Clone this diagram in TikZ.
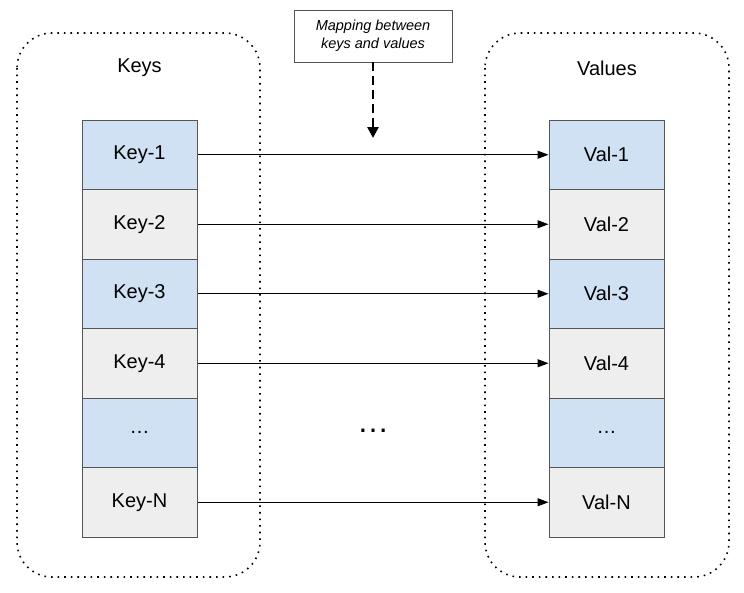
\documentclass[tikz,border=0pt]{standalone}
\usepackage{fontspec}
\setmainfont{Liberation Sans}
\usetikzlibrary{arrows.meta}
\definecolor{cellblue}{HTML}{CFE1F2}
\definecolor{cellgray}{HTML}{EEEEEE}
\definecolor{edgegray}{HTML}{555555}
\begin{document}
\begin{tikzpicture}[x=1pt,y=-1pt,
    cell/.style={draw=edgegray,line width=1pt,minimum width=115pt,minimum height=69.5pt,
      font=\fontsize{20}{24}\selectfont},
    map/.style={-{Triangle[length=11pt,width=8pt]},line width=1.1pt},
    group/.style={line width=1.6pt,dash pattern=on 1.6pt off 5pt,rounded corners=35pt}]
  \useasboundingbox (0,0) rectangle (744,592);
  % the two groups
  \draw[group] (17,33) rectangle (260,577);
  \draw[group] (485,33) rectangle (729,577);
  \node[font=\fontsize{20}{24}\selectfont] (keys) at (139.5,68) {Keys};
  \node[font=\fontsize{20}{24}\selectfont] (vals) at (607,68) {Values};
  % key column
  \node[cell,fill=cellblue] (k1) at (139.5,154.75) {Key-1};
  \node[cell,fill=cellgray] (k2) at (139.5,224.25) {Key-2};
  \node[cell,fill=cellblue] (k3) at (139.5,293.75) {Key-3};
  \node[cell,fill=cellgray] (k4) at (139.5,363.25) {Key-4};
  \node[cell,fill=cellblue] (kd) at (139.5,432.75) {\dots};
  \node[cell,fill=cellgray] (kn) at (139.5,502.25) {Key-N};
  % value column
  \node[cell,fill=cellblue] (v1) at (606.5,154.75) {Val-1};
  \node[cell,fill=cellgray] (v2) at (606.5,224.25) {Val-2};
  \node[cell,fill=cellblue] (v3) at (606.5,293.75) {Val-3};
  \node[cell,fill=cellgray] (v4) at (606.5,363.25) {Val-4};
  \node[cell,fill=cellblue] (vd) at (606.5,432.75) {\dots};
  \node[cell,fill=cellgray] (vn) at (606.5,502.25) {Val-N};
  % mappings
  \draw[map] (k1) -- (v1);
  \draw[map] (k2) -- (v2);
  \draw[map] (k3) -- (v3);
  \draw[map] (k4) -- (v4);
  \draw[map] (kn) -- (vn);
  \node[font=\fontsize{32}{34}\selectfont] (mid) at (373,431) {\dots};
  % note
  \node[draw=edgegray,line width=0.8pt,minimum width=158pt,minimum height=52pt,align=center,
    font=\itshape\fontsize{14.5}{18}\selectfont] (note) at (373,36)
    {Mapping between\\keys and values};
  \coordinate (tip) at (373,138);
  \draw[line width=2.6pt,dash pattern=on 9pt off 5pt,-{Triangle[length=11pt,width=11pt]}]
    (note) -- (tip);
\end{tikzpicture}
\end{document}
